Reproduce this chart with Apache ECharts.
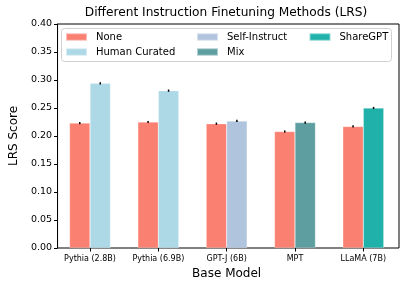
<!DOCTYPE html>
<html>
<head>
<meta charset="utf-8">
<script src="https://cdn.jsdelivr.net/npm/echarts@6/dist/echarts.min.js"></script>
<style>html,body{margin:0;padding:0;background:#fff;}#c{width:407px;height:288px;}</style>
</head>
<body>
<div id="c"></div>
<script>
// ---- data ----
const categories = ['Pythia (2.8B)', 'Pythia (6.9B)', 'GPT-J (6B)', 'MPT', 'LLaMA (7B)'];
const noneValues = [0.223, 0.225, 0.222, 0.208, 0.217];
const humanCuratedValues = [0.294, 0.281, null, null, null];
const selfInstructValues = [null, null, 0.227, null, null];
const mixValues = [null, null, null, 0.224, null];
const shareGPTValues = [null, null, null, null, 0.250];
const noneErr = [0.002, 0.002, 0.002, 0.002, 0.002];
const otherErr = [0.002, 0.002, 0.002, 0.002, 0.002];
const yTicks = [0, 0.05, 0.1, 0.15, 0.2, 0.25, 0.3, 0.35, 0.4];

const FONT = 'DejaVu Sans';
const colors = {None:'#FA8072', 'Human Curated':'#ADD8E6', 'Self-Instruct':'#B0C4DE', Mix:'#5F9EA0', ShareGPT:'#20B2AA'};
const BARFRAC = 0.30;

// combined "other" value per category
const otherValues = categories.map((_, i) =>
  [humanCuratedValues[i], selfInstructValues[i], mixValues[i], shareGPTValues[i]].find(v => v != null));

const errData = [];
categories.forEach((c, i) => {
  errData.push([i, noneValues[i], noneErr[i], -1]);
  errData.push([i, otherValues[i], otherErr[i], 1]);
});

function barSeries(name, data, stack) {
  return {
    name, type: 'bar', stack, data, xAxisIndex: 1, yAxisIndex: 1,
    barWidth: (BARFRAC * 100) + '%', barGap: '0%',
    itemStyle: {color: colors[name], borderColor: 'rgba(255,255,255,0.5)', borderWidth: 0.5},
    emphasis: {disabled: true}
  };
}

const legendText = {fontFamily: FONT, fontSize: 10, color: '#000', padding: [0, 0, 0, 4], lineHeight: 12};
function legend(names, left) {
  return {data: names, orient: 'vertical', left, top: 31, itemWidth: 21, itemHeight: 7.5,
    itemGap: 3, padding: 0, textStyle: legendText, selectedMode: false, icon: 'rect'};
}

const chart = echarts.init(document.getElementById('c'), null, {renderer: 'canvas'});
chart.setOption({
  animation: false,
  title: {text: 'Different Instruction Finetuning Methods (LRS)', left: 226, textAlign: 'center', top: 7,
    padding: 0, textStyle: {fontFamily: FONT, fontSize: 12.2, fontWeight: 'normal', color: '#000'}},
  graphic: [{type: 'rect', shape: {x: 61.5, y: 28.5, width: 330, height: 33, r: 3}, z: 5,
    style: {fill: 'rgba(255,255,255,0.8)', stroke: '#d0d0d0', lineWidth: 1}}],
  legend: [
    Object.assign(legend(['None', 'Human Curated'], 65), {z: 10}),
    Object.assign(legend(['Self-Instruct', 'Mix'], 196), {z: 10}),
    Object.assign(legend(['ShareGPT'], 308.5), {z: 10})
  ],
  grid: [
    {left: 52, right: 8, top: 24, bottom: 40, show: true, borderColor: '#000', borderWidth: 1, backgroundColor: 'transparent'},
    {left: 55.85, right: 9.55, top: 24, bottom: 40}
  ],
  xAxis: [
    {type: 'value', gridIndex: 0, show: false, min: 0, max: 1},
    {type: 'category', gridIndex: 1, data: categories,
      axisLine: {show: false},
      axisTick: {show: true, alignWithLabel: true, length: 3.5, lineStyle: {color: '#000'}},
      axisLabel: {fontFamily: FONT, fontSize: 8, color: '#000', margin: 7},
      name: 'Base Model', nameLocation: 'middle', nameGap: 20,
      nameTextStyle: {fontFamily: FONT, fontSize: 12, color: '#000'}},
  ],
  yAxis: [
    {type: 'value', gridIndex: 0, min: 0, max: 0.4, interval: 0.05,
      axisLine: {show: true, lineStyle: {color: '#000'}},
      axisTick: {show: true, length: 3.5, lineStyle: {color: '#000'}},
      splitLine: {show: false},
      axisLabel: {fontFamily: FONT, fontSize: 9.5, color: '#000', margin: 5.5,
        formatter: v => v.toFixed(2)},
      name: 'LRS Score', nameLocation: 'middle', nameGap: 33,
      nameTextStyle: {fontFamily: FONT, fontSize: 12, color: '#000'}},
    {type: 'value', gridIndex: 1, min: 0, max: 0.4, show: false, splitLine: {show: false}}
  ],
  series: [
    barSeries('None', noneValues, 'a'),
    barSeries('Human Curated', humanCuratedValues, 'b'),
    barSeries('Self-Instruct', selfInstructValues, 'b'),
    barSeries('Mix', mixValues, 'b'),
    barSeries('ShareGPT', shareGPTValues, 'b'),
    {type: 'custom', xAxisIndex: 1, yAxisIndex: 1, data: errData, z: 4, silent: true,
      renderItem: (params, api) => {
        const i = api.value(0), v = api.value(1), e = api.value(2), side = api.value(3);
        const band = api.size([1, 0])[0];
        const off = side * band * BARFRAC / 2;
        const p1 = api.coord([i, v - e]), p2 = api.coord([i, v + e]);
        return {type: 'line', shape: {x1: p1[0] + off, y1: p1[1], x2: p2[0] + off, y2: p2[1]},
          style: {stroke: '#000', lineWidth: 1.5}};
      }}
  ]
});
</script>
</body>
</html>
